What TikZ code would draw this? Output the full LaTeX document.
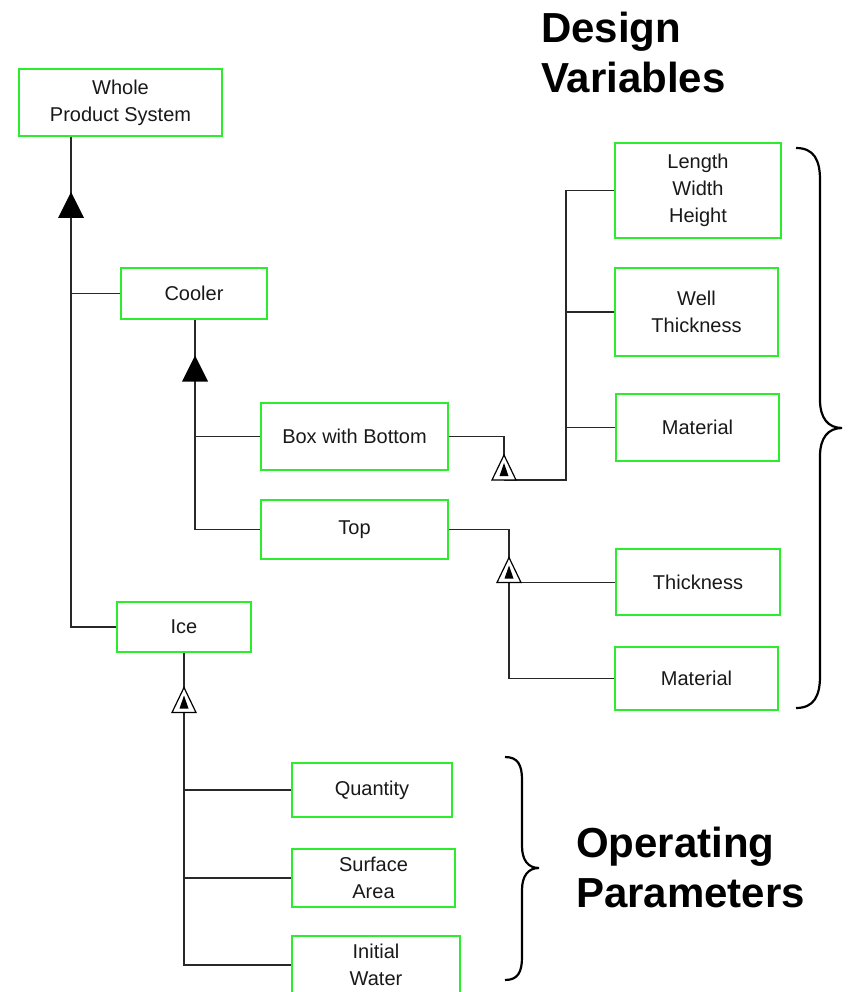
\documentclass[tikz,border=0pt]{standalone}
\usepackage{fontspec}
\setmainfont{Liberation Sans}
\definecolor{boxgreen}{RGB}{45,235,45}
\definecolor{wire}{RGB}{40,40,40}
\definecolor{ink}{RGB}{25,25,25}
\tikzset{
  item/.style={draw=boxgreen, line width=1.5pt, fill=white, inner sep=0pt,
    text=ink, align=center, font=\fontsize{20}{27}\selectfont},
  wirel/.style={draw=wire, line width=1.5pt},
  heading/.style={inner sep=0pt, align=left, text=black,
    font=\fontsize{42}{50}\selectfont\bfseries},
  bracel/.style={draw=black, line width=2.2pt}
}
% solid triangle marker centred at #1
\newcommand{\soltri}[1]{\fill[black] (#1) ++(0,-13) -- ++(13,26) -- ++(-26,0) -- cycle;}
% hollow triangle marker with a small solid triangle inside, centred at #1
\newcommand{\holtri}[1]{%
  \filldraw[fill=white, draw=black, line width=1.2pt] (#1) ++(0,-12.5) -- ++(12,25) -- ++(-24,0) -- cycle;
  \fill[black] (#1) ++(0,-4.5) -- ++(4.5,13) -- ++(-9,0) -- cycle;}
\begin{document}
\begin{tikzpicture}[x=1pt,y=-1pt]
\useasboundingbox (0,0) rectangle (848,992);

% headings
\node[heading, anchor=west] (dv) at (541,52.5) {Design\\Variables};
\node[heading, anchor=west] (op) at (576,867) {Operating\\Parameters};

% component boxes
\node[item, minimum width=203, minimum height=67] (whole) at (120.5,102.5) {Whole\\Product System};
\node[item, minimum width=146, minimum height=51] (cooler) at (194,293.5) {Cooler};
\node[item, minimum width=187, minimum height=67] (box) at (354.5,436.5) {Box with Bottom};
\node[item, minimum width=187, minimum height=59] (top) at (354.5,529.5) {Top};
\node[item, minimum width=134, minimum height=50] (ice) at (184,627) {Ice};

\node[item, minimum width=166, minimum height=95] (lwh) at (698,190.5) {Length\\Width\\Height};
\node[item, minimum width=163, minimum height=88] (well) at (696.5,312) {Well\\Thickness};
\node[item, minimum width=163, minimum height=67] (mat1) at (697.5,427.5) {Material};
\node[item, minimum width=164, minimum height=66] (thick) at (698,582) {Thickness};
\node[item, minimum width=163, minimum height=63] (mat2) at (696.5,678.5) {Material};

\node[item, minimum width=160, minimum height=54] (qty) at (372,790) {Quantity};
\node[item, minimum width=163, minimum height=58] (surf) at (373.5,878) {Surface\\Area};
\node[item, minimum width=168, minimum height=58] (init) at (376,965) {Initial\\Water};

% junction points
\coordinate (j1) at (71,0);
\coordinate (s1) at (71,205);
\coordinate (s2) at (195,368.5);
\coordinate (h1) at (504,467.5);
\coordinate (a1) at (504,455);
\coordinate (b1) at (504,480);
\coordinate (v1) at (566,0);
\coordinate (h2) at (509,570);
\coordinate (a2) at (509,557.5);
\coordinate (b2) at (509,582.5);
\coordinate (h3) at (184,700);
\coordinate (a3) at (184,687.5);
\coordinate (b3) at (184,712.5);

% whole system trunk
\draw[wirel] (whole.south -| j1) -- (ice.west -| j1) -- (ice.west);
\draw[wirel] (cooler.west -| j1) -- (cooler.west);

% cooler branch
\draw[wirel] (cooler.south -| s2) -- (top.west -| s2) -- (top.west);
\draw[wirel] (box.west -| s2) -- (box.west);

% box with bottom attributes
\draw[wirel] (box.east) -| (a1);
\draw[wirel] (b1) -| (v1 |- lwh.west) -- (lwh.west);
\draw[wirel] (v1 |- well.west) -- (well.west);
\draw[wirel] (v1 |- mat1.west) -- (mat1.west);

% top attributes
\draw[wirel] (top.east) -| (a2);
\draw[wirel] (b2) -- (thick.west |- b2);
\draw[wirel] (b2) |- (mat2.west);

% ice attributes
\draw[wirel] (ice.south) -- (a3);
\draw[wirel] (b3) |- (init.west);
\draw[wirel] (b3 |- qty.west) -- (qty.west);
\draw[wirel] (b3 |- surf.west) -- (surf.west);

% markers
\soltri{s1}
\soltri{s2}
\holtri{h1}
\holtri{h2}
\holtri{h3}

% braces
\draw[bracel] (796,148) .. controls (814,148) and (820,160) .. (820,180) -- (820,400)
  .. controls (820,418) and (828,428) .. (842,428)
  .. controls (828,428) and (820,438) .. (820,456) -- (820,676)
  .. controls (820,696) and (814,708) .. (796,708);
\draw[bracel] (505,757) .. controls (518,757) and (522,765) .. (522,780) -- (522,846)
  .. controls (522,860) and (528,868) .. (539,868)
  .. controls (528,868) and (522,876) .. (522,890) -- (522,957)
  .. controls (522,972) and (518,980) .. (505,980);
\end{tikzpicture}
\end{document}
